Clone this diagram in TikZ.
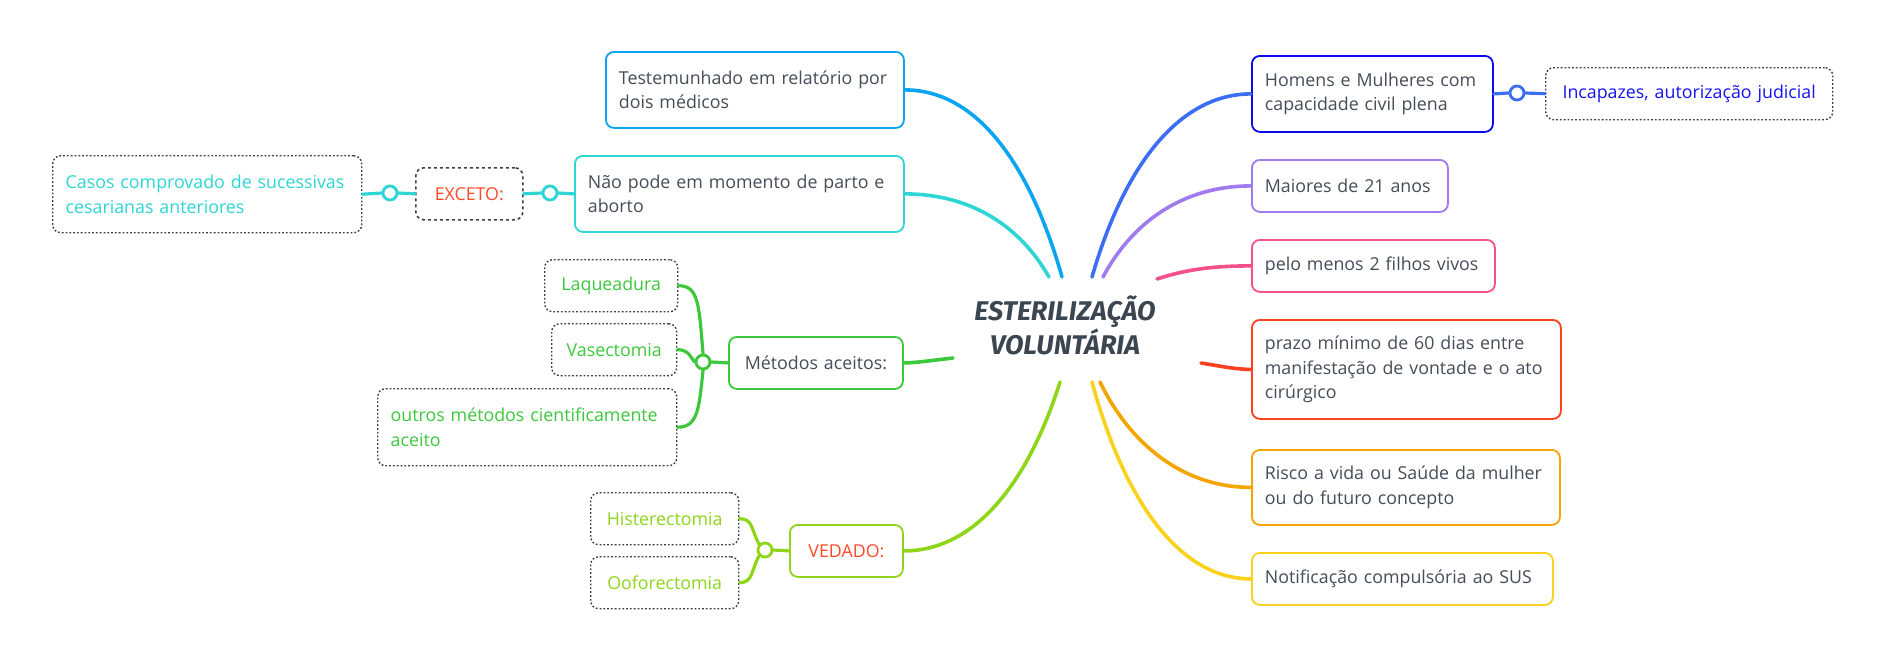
\documentclass[tikz,border=0pt]{standalone}
\usepackage{fontspec}
\setmainfont{Open Sans}
\newfontfamily\titlefont{Fira Sans}
\usetikzlibrary{calc}
\definecolor{txt}{HTML}{454D58}
\definecolor{titc}{HTML}{3C4650}
\definecolor{dotc}{HTML}{3A3F46}
\definecolor{cTest}{HTML}{0AA5F0}
\definecolor{cCyan}{HTML}{2ED5D5}
\definecolor{cGreen}{HTML}{3CC83C}
\definecolor{cLime}{HTML}{8FD61A}
\definecolor{cHomB}{HTML}{3C6EF5}
\definecolor{cHomBox}{HTML}{0A0AEE}
\definecolor{cIncT}{HTML}{1414F0}
\definecolor{cPurple}{HTML}{A07AEE}
\definecolor{cPink}{HTML}{F5508C}
\definecolor{cRed}{HTML}{FA4020}
\definecolor{cOrange}{HTML}{F5A500}
\definecolor{cYellow}{HTML}{FAD21E}
\definecolor{cAlert}{HTML}{FF4A2A}
\begin{document}
\begin{tikzpicture}[x=1pt,y=-1pt,
  box/.style={draw, rounded corners=8pt, line width=1.8pt, fill=white, anchor=north west,
    inner xsep=13pt, inner ysep=0pt, align=left, text=txt, font=\fontsize{17.8}{24.5}\selectfont},
  dotbox/.style={box, draw=dotc, dotted, line width=1.4pt},
  branch/.style={line width=3.6pt, line cap=round},
  sub/.style={line width=3.2pt, line cap=round},
  knob/.style={circle, draw, fill=white, line width=2.8pt, minimum size=14pt, inner sep=0pt}]
\useasboundingbox (0,0) rectangle (1883,659);
% central topic
\node[font=\titlefont\bfseries\itshape\fontsize{27}{34}\selectfont, text=titc, align=center] (title) at (1065,325) {ESTERILIZAÇÃO\\VOLUNTÁRIA};
\coordinate (sTest) at (1062,277);
\coordinate (sNao) at (1049,277);
\coordinate (sMet) at (953,358);
\coordinate (sVed) at (1060,382);
\coordinate (sHom) at (1092,277);
\coordinate (sMai) at (1103,277);
\coordinate (sPelo) at (1157,279);
\coordinate (sPrazo) at (1201,363);
\coordinate (sRisco) at (1100,382);
\coordinate (sNotif) at (1092,382);
% left main nodes
\node[box, draw=cTest, text width=272pt, minimum height=76pt] (test) at (605,51) {Testemunhado em relatório por\\dois médicos};
\node[box, draw=cCyan, text width=303pt, minimum height=76pt] (nao) at (574,155) {Não pode em momento de parto e\\aborto};
\node[box, draw=dotc, dashed, line width=1.6pt, text=cAlert, align=center, text width=81pt, minimum height=52pt] (exc) at (415,167) {EXCETO:};
\node[dotbox, text=cCyan, text width=283pt, minimum height=77pt] (casos) at (52,155) {Casos comprovado de sucessivas\\cesarianas anteriores};
\node[box, draw=cGreen, align=center, text width=148pt, minimum height=52pt] (met) at (728,336) {Métodos aceitos:};
\node[dotbox, text=cGreen, align=center, text width=107pt, minimum height=52pt] (laq) at (544,259) {Laqueadura};
\node[dotbox, text=cGreen, align=center, text width=99pt, minimum height=52pt] (vas) at (551,323) {Vasectomia};
\node[dotbox, text=cGreen, text width=273pt, minimum height=77pt] (outros) at (377,388) {outros métodos cientificamente\\aceito};
\node[box, draw=cLime, text=cAlert, align=center, text width=87pt, minimum height=52pt] (ved) at (789,524) {VEDADO:};
\node[dotbox, text=cLime, align=center, text width=122pt, minimum height=52pt] (hist) at (590,492) {Histerectomia};
\node[dotbox, text=cLime, align=center, text width=122pt, minimum height=52pt] (oof) at (590,556) {Ooforectomia};
% right main nodes
\node[box, draw=cHomBox, text width=215pt, minimum height=76pt] (hom) at (1251,55) {Homens e Mulheres com\\capacidade civil plena};
\node[dotbox, text=cIncT, align=center, text width=261pt, minimum height=52pt] (inc) at (1545,67) {Incapazes, autorização judicial};
\node[box, draw=cPurple, text width=170pt, minimum height=52pt] (mai) at (1251,159) {Maiores de 21 anos};
\node[box, draw=cPink, text width=217pt, minimum height=52pt] (pelo) at (1251,239) {pelo menos 2 filhos vivos};
\node[box, draw=cRed, text width=283pt, minimum height=99pt] (prazo) at (1251,319) {prazo mínimo de 60 dias entre\\manifestação de vontade e o ato\\cirúrgico};
\node[box, draw=cOrange, text width=282pt, minimum height=75pt] (risco) at (1251,449) {Risco a vida ou Saúde da mulher\\ou do futuro concepto};
\node[box, draw=cYellow, text width=275pt, minimum height=52pt] (notif) at (1251,552) {Notificação compulsória ao SUS};
% main branches
\draw[branch, cTest] (sTest) .. controls ($(sTest)+(-32,-113)$) and ($(test.east)+(72,0)$) .. (test.east);
\draw[branch, cCyan] (sNao) .. controls ($(sNao)+(-29,-51)$) and ($(nao.east)+(66,0)$) .. (nao.east);
\draw[branch, cGreen] (sMet) .. controls ($(sMet)+(-18,2)$) and ($(met.east)+(12,0)$) .. (met.east);
\draw[branch, cLime] (sVed) .. controls ($(sVed)+(-32,101)$) and ($(ved.east)+(71,0)$) .. (ved.east);
\draw[branch, cHomB] (sHom) .. controls ($(sHom)+(32,-111)$) and ($(hom.west)+(-72,0)$) .. (hom.west);
\draw[branch, cPurple] (sMai) .. controls ($(sMai)+(30,-56)$) and ($(mai.west)+(-67,0)$) .. (mai.west);
\draw[branch, cPink] (sPelo) .. controls ($(sPelo)+(33,-11)$) and ($(pelo.west)+(-31,0)$) .. (pelo.west);
\draw[branch, cRed] (sPrazo) .. controls ($(sPrazo)+(19,3)$) and ($(prazo.west)+(-16,0)$) .. (prazo.west);
\draw[branch, cOrange] (sRisco) .. controls ($(sRisco)+(30,62)$) and ($(risco.west)+(-68,0)$) .. (risco.west);
\draw[branch, cYellow] (sNotif) .. controls ($(sNotif)+(32,118)$) and ($(notif.west)+(-72,0)$) .. (notif.west);
% knobs
\node[knob, draw=cGreen] (kMet) at (703,362) {};
\node[knob, draw=cLime] (kVed) at (765,550) {};
\node[knob, draw=cHomB] (kHom) at (1517,93) {};
\node[knob, draw=cCyan] (kExcA) at (550,193) {};
\node[knob, draw=cCyan] (kExcB) at (390,193) {};
% sub connectors
\draw[sub, cGreen] (met.west) -- (kMet.east);
\draw[sub, cGreen] (kMet.north) .. controls ($(kMet.north)+(-4,-50)$) and ($(laq.east)+(20,0)$) .. (laq.east);
\draw[sub, cGreen] (kMet.west) .. controls ($(kMet.west)+(-6,-8)$) and ($(vas.east)+(10,0)$) .. (vas.east);
\draw[sub, cGreen] (kMet.south) .. controls ($(kMet.south)+(-4,40)$) and ($(outros.east)+(20,0)$) .. (outros.east);
\draw[sub, cLime] (ved.west) -- (kVed.east);
\draw[sub, cLime] (kVed.north west) .. controls ($(kVed.north west)+(-8,-14)$) and ($(hist.east)+(14,0)$) .. (hist.east);
\draw[sub, cLime] (kVed.south west) .. controls ($(kVed.south west)+(-8,14)$) and ($(oof.east)+(14,0)$) .. (oof.east);
\draw[sub, cHomB] (hom.east) -- (kHom.west);
\draw[sub, cHomB] (kHom.east) -- (inc.west);
\draw[sub, cCyan] (nao.west) -- (kExcA.east);
\draw[sub, cCyan] (kExcA.west) -- (exc.east);
\draw[sub, cCyan] (exc.west) -- (kExcB.east);
\draw[sub, cCyan] (kExcB.west) -- (casos.east);
\end{tikzpicture}
\end{document}
